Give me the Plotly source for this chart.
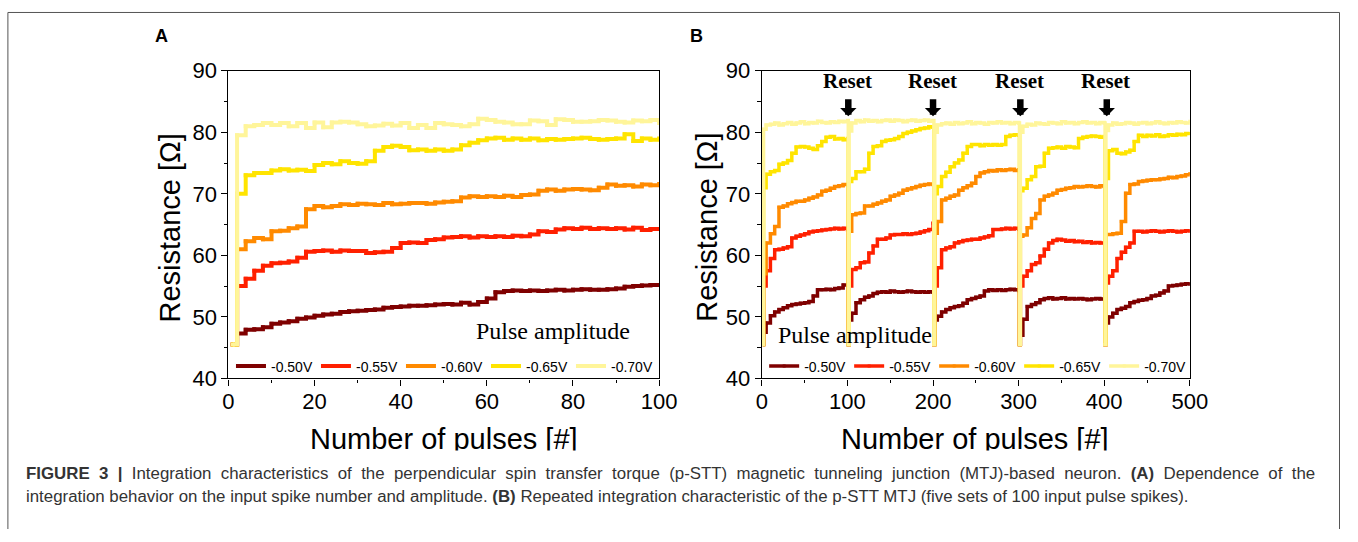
import plotly.graph_objects as go

W, H = 1358, 542

# ---------------- data ----------------
voltages = ["-0.50V", "-0.55V", "-0.60V", "-0.65V", "-0.70V"]
colors = ["#7f0000", "#ff2000", "#ff8a00", "#ffe400", "#fff59a"]

# Panel A: pulse index (1 then every 2nd pulse)
pulses_a = [1] + list(range(2, 101, 2))
res_a_050 = [45.5, 47.3, 47.9, 48.0, 48.3, 48.9, 49.1, 49.3, 49.7, 49.9,
             50.2, 50.4, 50.5, 50.8, 50.9, 51.0, 51.1, 51.2, 51.5, 51.6,
             51.7, 51.8, 51.8, 51.9, 52.0, 52.1, 52.0, 52.3, 52.0, 52.4,
             53.0, 54.0, 54.2, 54.3, 54.2, 54.3, 54.2, 54.3, 54.4, 54.3,
             54.4, 54.5, 54.4, 54.4, 54.5, 54.6, 54.9, 55.0, 55.1, 55.2, 55.2]
res_a_055 = [45.5, 55.0, 56.2, 57.5, 58.3, 58.7, 58.8, 59.0, 59.6, 60.6,
             60.7, 60.8, 60.6, 60.8, 60.7, 60.7, 60.4, 60.5, 60.6, 61.2,
             62.0, 62.1, 62.0, 62.5, 62.6, 62.9, 63.0, 63.1, 62.9, 63.1,
             63.0, 63.1, 63.0, 63.2, 63.1, 63.4, 63.9, 63.8, 64.2, 64.4,
             64.3, 64.5, 64.3, 64.4, 64.3, 64.4, 64.2, 64.5, 64.1, 64.3, 64.3]
res_a_060 = [45.5, 61.0, 62.3, 62.8, 62.6, 63.9, 64.0, 64.4, 64.7, 67.5,
             68.0, 67.8, 68.0, 68.3, 68.2, 68.4, 68.3, 68.2, 68.5, 68.3,
             68.4, 68.5, 68.5, 68.4, 68.6, 68.7, 68.8, 69.4, 69.6, 69.5,
             69.6, 69.5, 69.7, 69.5, 69.8, 69.9, 70.5, 70.7, 70.5, 70.7,
             70.8, 70.7, 70.6, 71.0, 71.5, 71.3, 71.4, 71.2, 71.5, 71.4, 71.6]
res_a_065 = [45.5, 70.0, 73.0, 73.4, 73.4, 73.8, 74.0, 73.8, 73.9, 73.7,
             74.7, 75.0, 74.8, 75.3, 75.0, 74.9, 75.3, 77.0, 77.6, 77.8,
             77.6, 77.1, 77.2, 77.0, 77.2, 77.0, 77.2, 77.9, 78.3, 78.7,
             79.0, 79.1, 78.8, 79.0, 78.8, 79.0, 78.7, 78.9, 78.8, 78.9,
             79.0, 79.1, 78.9, 78.8, 78.9, 79.0, 79.7, 78.6, 79.0, 78.8, 79.0]
res_a_070 = [45.5, 79.5, 81.0, 81.2, 81.5, 81.2, 81.5, 81.0, 81.5, 80.7,
             81.6, 80.8, 81.6, 81.7, 81.6, 81.3, 81.0, 81.1, 81.4, 81.1,
             81.5, 80.7, 81.2, 80.7, 81.5, 81.3, 81.2, 81.0, 81.3, 82.2,
             82.0, 81.7, 81.6, 81.3, 81.3, 81.9, 81.8, 81.2, 82.1, 82.0,
             81.7, 81.7, 81.8, 82.0, 81.9, 81.7, 81.6, 81.9, 81.8, 82.0, 81.5]

# Panel B: five sets of 100 pulses, sampled at these offsets within each set
set_offsets_b = [1, 2, 5, 10, 15, 20, 25, 30, 35, 40, 45, 50, 55, 60, 65,
                 70, 75, 80, 85, 90, 95, 100]
n_sets_b = 5
pulses_b = [100 * s + o for s in range(n_sets_b) for o in set_offsets_b]
res_b_050 = [45.5, 47.5, 49.0, 50.2, 50.8, 51.2, 51.5, 51.8, 52.0, 52.1, 52.2, 52.3, 52.5, 53.4, 54.4, 54.4, 54.5, 54.4, 54.6, 54.7, 55.2, 55.2,
             45.5, 49.5, 50.6, 52.3, 52.8, 53.2, 53.4, 53.8, 54.0, 54.1, 54.0, 54.2, 54.1, 54.0, 54.1, 54.2, 54.1, 54.0, 54.1, 54.0, 54.1, 54.0,
             45.5, 49.5, 50.1, 50.8, 51.2, 51.5, 51.7, 51.8, 52.2, 52.8, 53.0, 53.2, 53.4, 54.2, 54.4, 54.3, 54.4, 54.3, 54.4, 54.5, 54.4, 54.3,
             45.5, 47.0, 49.6, 51.7, 52.0, 52.3, 52.8, 53.0, 53.1, 52.9, 53.0, 53.1, 52.9, 53.0, 52.9, 53.0, 52.9, 52.8, 52.9, 53.0, 52.9, 52.9,
             45.5, 49.0, 50.0, 50.6, 51.2, 51.4, 51.7, 52.3, 52.5, 52.7, 52.8, 53.0, 53.4, 53.5, 53.9, 54.2, 55.0, 55.1, 55.2, 55.3, 55.4, 55.3]
res_b_055 = [45.5, 55.0, 57.5, 59.5, 60.9, 61.0, 61.2, 61.4, 62.8, 63.1, 63.3, 63.5, 63.8, 63.9, 64.0, 64.1, 64.2, 64.3, 64.4, 64.3, 64.4, 64.2,
             45.5, 55.0, 57.7, 58.0, 58.8, 58.9, 60.4, 61.5, 62.6, 62.6, 62.8, 63.3, 63.4, 63.4, 63.5, 63.4, 63.5, 63.6, 63.8, 64.0, 64.2, 65.2,
             45.5, 55.0, 58.0, 60.9, 61.2, 61.4, 62.0, 62.2, 62.4, 62.5, 62.6, 62.6, 62.8, 63.0, 63.2, 64.2, 64.2, 64.3, 64.4, 64.3, 64.4, 64.3,
             45.5, 55.0, 56.6, 57.5, 58.5, 58.8, 59.9, 61.0, 62.0, 62.4, 62.6, 62.5, 62.3, 62.4, 62.2, 62.3, 62.1, 62.2, 62.0, 62.1, 62.0, 62.0,
             45.5, 55.5, 56.6, 57.5, 59.5, 60.5, 61.3, 62.0, 63.9, 63.9, 63.8, 63.9, 64.0, 63.9, 63.8, 63.9, 64.0, 63.9, 63.8, 63.9, 64.0, 63.9]
res_b_060 = [45.5, 57.0, 62.0, 63.5, 64.7, 67.8, 68.0, 68.4, 68.6, 68.8, 68.8, 69.0, 69.3, 69.5, 69.8, 70.4, 70.6, 70.9, 71.2, 71.3, 71.5, 71.5,
             45.5, 63.9, 66.6, 66.8, 66.9, 68.0, 68.0, 68.3, 68.5, 68.8, 69.0, 69.6, 69.8, 70.1, 70.6, 70.8, 71.0, 71.2, 71.4, 71.5, 71.6, 71.5,
             45.5, 63.6, 65.5, 69.0, 69.3, 69.6, 69.8, 70.6, 71.0, 71.3, 71.7, 72.8, 73.4, 73.6, 73.8, 73.7, 73.9, 73.8, 73.9, 74.0, 73.8, 73.9,
             45.5, 63.1, 63.3, 64.5, 66.0, 66.8, 69.0, 69.6, 69.8, 70.1, 70.6, 70.7, 70.9, 71.0, 71.2, 71.1, 71.2, 71.3, 71.2, 71.1, 71.3, 71.2,
             45.5, 63.4, 63.4, 63.5, 63.6, 65.5, 70.1, 71.5, 71.6, 72.0, 72.1, 72.2, 72.3, 72.3, 72.4, 72.5, 72.7, 72.6, 72.8, 72.9, 73.1, 73.3]
res_b_065 = [45.5, 71.0, 73.2, 73.6, 73.8, 74.8, 75.0, 75.4, 76.6, 77.6, 77.7, 77.6, 77.4, 77.2, 77.8, 78.5, 79.2, 79.3, 78.9, 79.0, 78.8, 79.0,
             45.5, 72.0, 72.5, 73.6, 73.6, 74.0, 76.6, 77.7, 77.8, 78.5, 78.7, 78.8, 79.0, 79.3, 79.8, 80.0, 80.2, 80.4, 80.6, 80.7, 80.9, 80.8,
             45.5, 70.0, 71.2, 72.8, 73.5, 74.4, 75.0, 75.5, 76.6, 77.7, 78.0, 78.0, 77.8, 78.0, 77.9, 78.0, 77.9, 78.0, 79.3, 79.5, 79.6, 79.5,
             45.5, 70.5, 70.9, 72.3, 72.8, 74.4, 74.5, 76.6, 77.4, 77.5, 77.6, 77.4, 77.7, 77.6, 77.5, 79.0, 79.2, 79.3, 79.4, 79.3, 79.2, 79.3,
             45.5, 72.5, 77.0, 77.2, 76.6, 76.5, 76.8, 77.1, 78.5, 79.5, 79.3, 79.5, 79.4, 79.6, 79.3, 79.4, 79.6, 79.5, 79.7, 79.6, 79.8, 79.8]
res_b_070 = [45.5, 80.5, 81.2, 81.3, 81.5, 81.2, 81.4, 81.6, 81.3, 81.5, 81.7, 81.4, 81.6, 81.5, 81.8, 81.6, 81.5, 81.7, 81.6, 81.8, 81.7, 81.9,
             45.5, 80.2, 81.5, 81.9, 81.7, 82.0, 81.8, 81.9, 81.7, 81.9, 82.0, 81.8, 82.0, 81.9, 81.7, 81.9, 82.0, 81.8, 81.9, 82.0, 81.8, 81.9,
             45.5, 80.0, 81.2, 81.4, 81.5, 81.3, 81.6, 81.4, 81.5, 81.7, 81.4, 81.6, 81.5, 81.3, 81.6, 81.5, 81.7, 81.5, 81.6, 81.4, 81.6, 81.5,
             45.5, 80.0, 81.0, 81.3, 81.2, 81.5, 81.4, 81.3, 81.6, 81.5, 81.4, 81.7, 81.5, 81.6, 81.4, 81.6, 81.7, 81.5, 81.6, 81.4, 81.6, 81.5,
             45.5, 80.3, 81.2, 81.5, 81.3, 81.4, 81.6, 81.5, 81.3, 81.5, 81.6, 81.4, 81.5, 81.7, 81.5, 81.4, 81.6, 81.5, 81.7, 81.6, 81.5, 81.8]

reset_pulses = [100, 199, 301, 402]

series_a = [res_a_050, res_a_055, res_a_060, res_a_065, res_a_070]
series_b = [res_b_050, res_b_055, res_b_060, res_b_065, res_b_070]

# ---------------- helpers (target pixel -> paper) ----------------
# the photographed page shows the figure slightly scaled/offset; compensate
SX, OX, SY, OY = 0.982, 6.1, 0.958, 11.0

def px(x):
    return min(max((x - OX) / SX, 0.5), W - 0.5) / W

def py(y):
    return 1 - min(max((y - OY) / SY, 0.5), H - 0.5) / H

SANS = "Liberation Sans, Arial, sans-serif"
SERIF = "Liberation Serif, Times New Roman, serif"

fig = go.Figure()

for name, col, ys in zip(voltages, colors, series_a):
    fig.add_trace(go.Scatter(
        x=pulses_a, y=ys, name=name, mode="lines+markers",
        line=dict(color=col, width=4, shape="hv"),
        marker=dict(color=col, size=4, symbol="square"),
        xaxis="x", yaxis="y", legend="legend"))

for name, col, ys in zip(voltages, colors, series_b):
    fig.add_trace(go.Scatter(
        x=pulses_b, y=ys, name=name, mode="lines+markers",
        line=dict(color=col, width=3.5, shape="hv"),
        marker=dict(color=col, size=3, symbol="square"),
        xaxis="x2", yaxis="y2", legend="legend2"))

axis_common = dict(
    showline=True, linecolor="black", linewidth=1.3, mirror=True,
    ticks="outside", ticklen=6, tickwidth=1.3, tickcolor="black",
    showgrid=False, zeroline=False,
    tickfont=dict(family=SANS, size=22, color="black"),
)
minor_common = dict(ticks="outside", ticklen=3.5, tickwidth=1.3, tickcolor="black", showgrid=False)

ydom = [py(379), py(70)]

legend_common = dict(orientation="h", xanchor="left", yanchor="middle", y=py(367),
                     bgcolor="rgba(0,0,0,0)", font=dict(family=SANS, size=14, color="black"),
                     itemwidth=30, tracegroupgap=0, entrywidth=40)

fig.update_layout(
    width=W, height=H, autosize=False,
    margin=dict(l=0, r=0, t=0, b=0, pad=0),
    paper_bgcolor="white", plot_bgcolor="white",
    showlegend=True,
    xaxis=dict(domain=[px(228.5), px(659)], range=[0, 100], dtick=20, anchor="y",
               ticklabelstandoff=-3,
               minor=dict(dtick=10, **minor_common), **axis_common),
    yaxis=dict(domain=ydom, range=[40, 90], dtick=10, anchor="x",
               minor=dict(dtick=5, **minor_common), **axis_common),
    xaxis2=dict(domain=[px(761.7), px(1189.5)], range=[0, 500], dtick=100, anchor="y2",
                ticklabelstandoff=-3,
                minor=dict(dtick=50, **minor_common), **axis_common),
    yaxis2=dict(domain=ydom, range=[40, 90], dtick=10, anchor="x2",
                minor=dict(dtick=5, **minor_common), **axis_common),
    legend=dict(x=px(231), **legend_common),
    legend2=dict(x=px(764), **legend_common),
)

ann = []

def label(text, x, y, size, family=SANS, xanchor="center", yanchor="middle", **kw):
    d = dict(text=text, x=px(x), y=py(y), xref="paper", yref="paper",
             xanchor=xanchor, yanchor=yanchor, showarrow=False,
             font=dict(family=family, size=size, color=kw.pop("color", "black")))
    d.update(kw)
    ann.append(d)

# panel letters
label("<b>A</b>", 162, 35, 18)
label("<b>B</b>", 696, 35, 18)
# axis titles
for xc in (170, 706):
    label("Resistance [Ω]", xc, 227.5, 29, textangle=-90)
for xc in (444, 975):
    label("Number of pulses [#]", xc, 440, 29)
# crop of the axis titles (the image was cut at the caption)
ann.append(dict(text=" ", x=0.5, y=py(451), xref="paper", yref="paper", xanchor="center",
                yanchor="top", width=1100, height=12, bgcolor="white", borderpad=0,
                showarrow=False, font=dict(size=2)))
# Pulse amplitude
label("Pulse amplitude", 553, 331, 24, family=SERIF)
label("Pulse amplitude", 776, 335, 24, family=SERIF, xanchor="left")
# Reset labels and arrows
for p in reset_pulses:
    ann.append(dict(text="<b>Reset</b>", x=p, y=88.4, xref="x2", yref="y2",
                    xanchor="center", yanchor="middle",
                    showarrow=False, font=dict(family=SERIF, size=21, color="black")))
    ann.append(dict(text=" ", x=p + 1, y=82.6, xref="x2", yref="y2", showarrow=True,
                    ax=0, ay=-19, arrowhead=1, arrowwidth=6.5, arrowsize=0.42,
                    arrowcolor="black", font=dict(size=1), startstandoff=0))
# caption (first line justified in the original -> wider word gaps)
cap1_words = ["<b>FIGURE", "3", "|</b>", "Integration", "characteristics", "of", "the",
              "perpendicular", "spin", "transfer", "torque", "(p-STT)", "magnetic",
              "tunneling", "junction", "(MTJ)-based", "neuron.", "<b>(A)</b>",
              "Dependence", "of", "the"]
cap1 = " \u00a0".join(cap1_words)
cap2 = ("integration behavior on the input spike number and amplitude. <b>(B)</b> Repeated "
        "integration characteristic of the p-STT MTJ (five sets of 100 input pulse spikes).")
label(cap1, 24.5, 474.5, 16.85, xanchor="left", color="#333333")
label(cap2, 24.5, 497.5, 16.85, xanchor="left", color="#333333")

fig.update_layout(annotations=ann)

# outer frame (open at the bottom)
fx0, fx1, fy = px(8), px(1354), py(8.5)
fig.add_shape(type="path", xref="paper", yref="paper",
              path=f"M {fx0},0 L {fx0},{fy} L {fx1},{fy} L {fx1},0",
              line=dict(color="#555555", width=1), layer="above")

fig.write_html("out.html")
